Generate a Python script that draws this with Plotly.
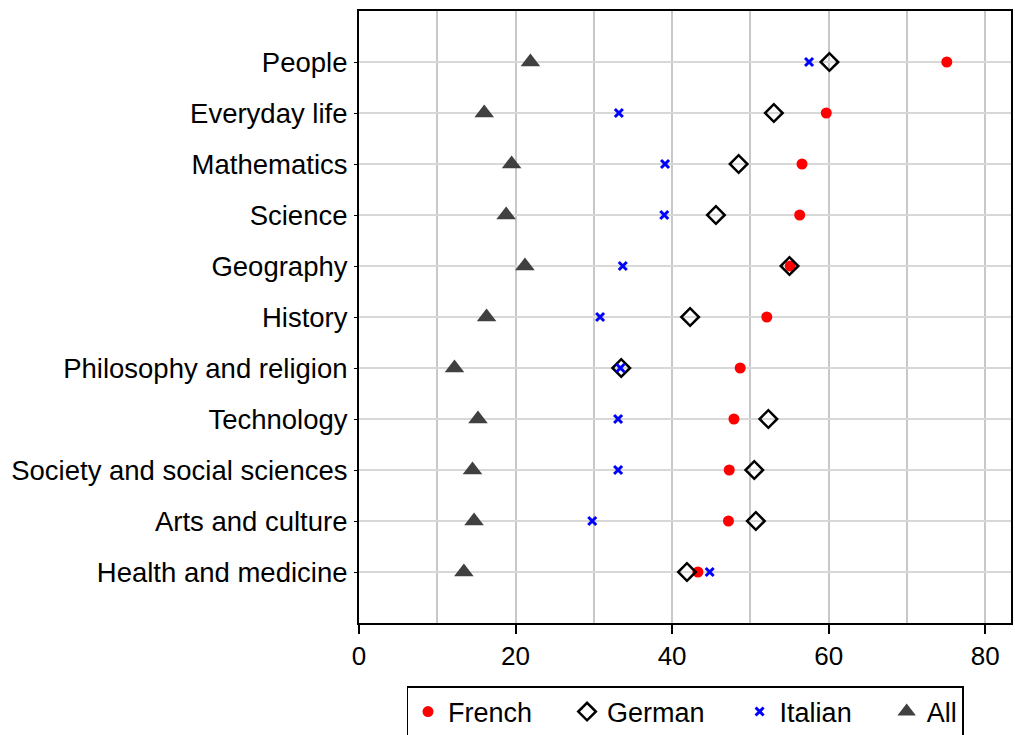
import plotly.graph_objects as go

categories = ["People", "Everyday life", "Mathematics", "Science", "Geography",
              "History", "Philosophy and religion", "Technology",
              "Society and social sciences", "Arts and culture", "Health and medicine"]
french = [75.1, 59.7, 56.6, 56.3, 55.1, 52.1, 48.7, 47.9, 47.3, 47.2, 43.3]
german = [60.1, 53.0, 48.5, 45.6, 55.0, 42.3, 33.5, 52.3, 50.5, 50.7, 41.9]
italian = [57.5, 33.2, 39.1, 39.0, 33.7, 30.8, 33.4, 33.1, 33.1, 29.8, 44.8]
all_langs = [21.9, 16.0, 19.5, 18.8, 21.2, 16.3, 12.2, 15.2, 14.5, 14.7, 13.4]
series_names = ["French", "German", "Italian", "All"]

FONT = "Liberation Sans"
PAD = "\u00a0" * 4

fig = go.Figure()
fig.add_trace(go.Scatter(x=french, y=categories, mode="markers", name=series_names[0] + PAD,
                         marker=dict(symbol="circle", color="#ff0000", size=11,
                                     line=dict(width=0))))
fig.add_trace(go.Scatter(x=german, y=categories, mode="markers", name=series_names[1] + PAD,
                         marker=dict(symbol="diamond-open", color="black", size=13.5,
                                     line=dict(width=2.5, color="black"))))
fig.add_trace(go.Scatter(x=italian, y=categories, mode="markers", name=series_names[2] + PAD,
                         marker=dict(symbol="x-thin-open", color="#0000ff", size=8,
                                     line=dict(width=3, color="#0000ff"))))
fig.add_trace(go.Scatter(x=all_langs, y=categories, mode="markers", name=series_names[3],
                         marker=dict(symbol="triangle-up", color="#404040", size=17,
                                     line=dict(width=0))))

fig.update_layout(
    width=1015, height=735,
    margin=dict(l=359, r=2, t=11, b=112),
    paper_bgcolor="white", plot_bgcolor="white",
    font=dict(family=FONT, size=27, color="black"),
    showlegend=True,
    legend=dict(orientation="h", xref="paper", x=0.5, xanchor="center",
                yref="container", y=1 - 686 / 735, yanchor="top",
                bordercolor="black", borderwidth=1.5, font=dict(size=27),
                itemsizing="trace"),
    xaxis=dict(range=[0, 83.3], tickvals=[0, 20, 40, 60, 80],
               ticks="outside", ticklen=9, tickwidth=1.5, tickcolor="black",
               showline=True, linecolor="black", linewidth=2, mirror=True,
               showgrid=True, gridcolor="#c8c8c8", gridwidth=2,
               minor=dict(dtick=10, tick0=0, showgrid=True, gridcolor="#c8c8c8",
                          gridwidth=2, ticks=""),
               zeroline=False, tickfont=dict(size=26)),
    yaxis=dict(type="category", categoryorder="array",
               categoryarray=list(reversed(categories)), range=[-1, 11],
               ticks="outside", ticklen=3, tickcolor="black",
               showline=True, linecolor="black", linewidth=2, mirror=True,
               showgrid=True, gridcolor="#d8d8d8", gridwidth=1.5,
               zeroline=False, ticklabelstandoff=1, tickfont=dict(size=27.5)),
)

fig.write_html("out.html", config={"displayModeBar": False},
               post_script="document.body.style.margin='0';")
